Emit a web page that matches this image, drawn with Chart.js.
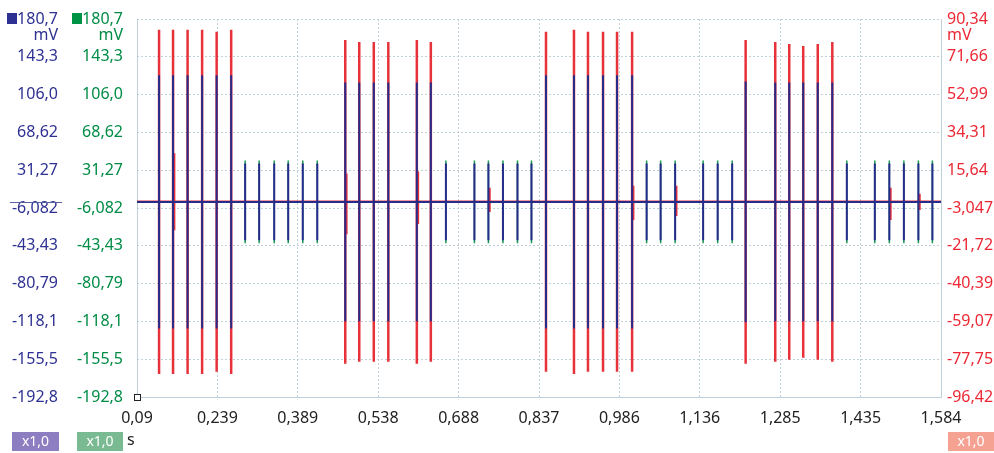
<!DOCTYPE html>
<html>
<head>
<meta charset="utf-8">
<script src="https://cdn.jsdelivr.net/npm/chart.js@4.4.1/dist/chart.umd.min.js"></script>
<style>
  html, body { margin: 0; padding: 0; background: #fff; }
  #scope { display: block; }
</style>
</head>
<body>
<canvas id="scope" width="994" height="453"></canvas>
<script>
// Time axis (s)
const xMin = 0.09;
const xMax = 1.584;
const xTickValues = [0.09, 0.2394, 0.3888, 0.5382, 0.6876, 0.837, 0.9864, 1.1358, 1.2852, 1.4346, 1.584];
const xTickLabels = ['0,09', '0,239', '0,389', '0,538', '0,688', '0,837', '0,986', '1,136', '1,285', '1,435', '1,584'];

// Channel A (blue) and B (green) share the same range (mV)
const abTickValues = [180.7, 143.35, 106.0, 68.62, 31.27, -6.082, -43.43, -80.79, -118.1, -155.5, -192.8];
const abTickLabels = ['180,7', '143,3', '106,0', '68,62', '31,27', '-6,082', '-43,43', '-80,79', '-118,1', '-155,5', '-192,8'];

// Channel C (red) range (mV)
const cTickValues = [90.34, 71.66, 52.99, 34.31, 15.64, -3.047, -21.72, -40.39, -59.07, -77.75, -96.42];
const cTickLabels = ['90,34', '71,66', '52,99', '34,31', '15,64', '-3,047', '-21,72', '-40,39', '-59,07', '-77,75', '-96,42'];

// Large pulses (s) with their peak values
const bigPulseTimes = [
  0.131, 0.157, 0.184, 0.211, 0.238, 0.265,
  0.477, 0.503, 0.530, 0.557, 0.610, 0.636,
  0.850, 0.902, 0.928, 0.956, 0.982, 1.010,
  1.221, 1.276, 1.302, 1.328, 1.355, 1.382
];
const blueBigAmp = [
  125, 125, 125, 125, 125, 125,
  118, 118, 118, 118, 118, 118,
  125, 125, 125, 125, 125, 125,
  119, 118, 118, 118, 118, 118
];
const redBigAmp = [
  85, 85, 85, 85, 84, 85,
  80, 79, 79, 79, 80, 79,
  84, 85, 84, 84, 84, 84,
  80, 79, 78, 77, 78, 79
];

// Small pulses (s) with their peak values
const smallPulseTimes = [
  0.291, 0.317, 0.345, 0.371, 0.398, 0.425,
  0.664, 0.717, 0.743, 0.770, 0.797, 0.823,
  1.037, 1.063, 1.090, 1.142, 1.169, 1.196,
  1.409, 1.461, 1.488, 1.515, 1.542, 1.568
];
const blueSmallAmp = [
  38, 38, 38, 38, 38, 38,
  38, 38, 38, 38, 38, 38,
  38, 38, 38, 38, 38, 38,
  38, 38, 38, 38, 38, 38
];
const greenSmallAmp = [
  41, 41, 41, 41, 41, 41,
  41, 41, 41, 41, 41, 41,
  41, 41, 41, 41, 41, 41,
  41, 41, 41, 41, 41, 41
];

// Small red blips next to some pulses (s, mV up, mV down)
const redBlipTimes = [0.159, 0.479, 0.612, 0.745, 1.012, 1.092, 1.490, 1.544];
const redBlipUp = [24, 14, 15, 7, 8, 8, 7, 4];
const redBlipDown = [14, 16, 11, 5, 9, 7, 9, 4];

// Colours
const blueColor = 'rgb(38, 44, 138)';
const greenColor = 'rgb(20, 150, 80)';
const redColor = 'rgb(232, 50, 58)';
const blueText = 'rgb(46, 49, 146)';
const greenText = 'rgb(0, 140, 70)';
const redText = 'rgb(236, 40, 52)';
const gridColor = 'rgb(190, 208, 218)';

// Build a trace: baseline with vertical spikes
function buildTrace(groups) {
  const spikes = [];
  groups.forEach(g => {
    g.times.forEach((t, i) => {
      spikes.push({ t: t, up: g.up[i], down: g.down[i] });
    });
  });
  spikes.sort((a, b) => a.t - b.t);
  const pts = [{ x: xMin, y: 0 }];
  spikes.forEach(s => {
    pts.push({ x: s.t, y: 0 });
    pts.push({ x: s.t, y: s.up });
    pts.push({ x: s.t, y: -s.down });
    pts.push({ x: s.t, y: 0 });
  });
  pts.push({ x: xMax, y: 0 });
  return pts;
}

const blueData = buildTrace([
  { times: bigPulseTimes, up: blueBigAmp, down: blueBigAmp },
  { times: smallPulseTimes, up: blueSmallAmp, down: blueSmallAmp }
]);
const greenData = buildTrace([
  { times: smallPulseTimes, up: greenSmallAmp, down: greenSmallAmp }
]);
const redData = buildTrace([
  { times: bigPulseTimes, up: redBigAmp, down: redBigAmp },
  { times: redBlipTimes, up: redBlipUp, down: redBlipDown }
]);

function fixedTicks(values) {
  return function(scale) {
    scale.ticks = values.map(v => ({ value: v }));
  };
}
function labelFor(values, labels) {
  return function(value) {
    const i = values.indexOf(value);
    return i >= 0 ? labels[i] : '';
  };
}
// fixed axis width, no extra top/bottom padding from the tick labels
function fixWidth(w) {
  return function(s) {
    s.width = w;
    s.paddingTop = 0;
    s.paddingBottom = 0;
  };
}

// Extra decorations: unit labels, channel squares, range badges
const scopeDecor = {
  id: 'scopeDecor',
  afterDraw(chart) {
    const ctx = chart.ctx;
    const area = chart.chartArea;
    ctx.save();
    ctx.font = '16px "Noto Sans"';
    ctx.textBaseline = 'middle';

    // channel squares
    ctx.fillStyle = 'rgb(46, 49, 146)';
    ctx.fillRect(7, 13, 10, 11);
    ctx.fillStyle = 'rgb(0, 146, 69)';
    ctx.fillRect(72, 13, 10, 11);

    // units
    ctx.textAlign = 'right';
    ctx.fillStyle = blueText;
    ctx.fillText('mV', 58, 35);
    ctx.fillStyle = greenText;
    ctx.fillText('mV', 123, 35);
    ctx.textAlign = 'left';
    ctx.fillStyle = redText;
    ctx.fillText('mV', 947, 35);

    // zero marker for channel A
    const y0 = Math.round(chart.scales.yBlue.getPixelForValue(0)) + 0.5;
    ctx.strokeStyle = 'rgb(90, 95, 160)';
    ctx.lineWidth = 1;
    ctx.beginPath();
    ctx.moveTo(10, y0);
    ctx.lineTo(62, y0);
    ctx.stroke();

    // origin marker
    ctx.fillStyle = '#fff';
    ctx.fillRect(area.left - 2, area.bottom - 2, 6, 6);
    ctx.strokeStyle = '#222';
    ctx.strokeRect(area.left - 2.5, area.bottom - 2.5, 6, 6);

    // range badges
    ctx.font = '14px "Noto Sans"';
    ctx.textAlign = 'center';
    const badges = [
      { x: 12, w: 47, fill: 'rgb(140, 126, 192)' },
      { x: 77, w: 46, fill: 'rgb(122, 186, 146)' },
      { x: 948, w: 46, fill: 'rgb(246, 162, 146)' }
    ];
    badges.forEach(b => {
      ctx.fillStyle = b.fill;
      ctx.fillRect(b.x, 432, b.w, 19);
      ctx.fillStyle = '#fff';
      ctx.fillText('x1,0', b.x + b.w / 2, 442);
    });

    // time unit
    ctx.font = '16px "Noto Sans"';
    ctx.textAlign = 'left';
    ctx.fillStyle = '#222';
    ctx.fillText('s', 127, 440);
    ctx.restore();
  }
};

Chart.defaults.font.family = '"Noto Sans", sans-serif';
Chart.defaults.font.size = 16;

const ctx = document.getElementById('scope').getContext('2d');

const scopeChart = new Chart(ctx, {
  type: 'line',
  data: {
    datasets: [
      {
        label: 'A',
        data: blueData,
        yAxisID: 'yBlue',
        borderColor: blueColor,
        borderWidth: 2,
        order: 1
      },
      {
        label: 'C',
        data: redData,
        yAxisID: 'yRed',
        borderColor: redColor,
        borderWidth: 2.5,
        order: 2
      },
      {
        label: 'B',
        data: greenData,
        yAxisID: 'yGreen',
        borderColor: greenColor,
        borderWidth: 1.5,
        order: 3
      }
    ]
  },
  options: {
    responsive: false,
    animation: false,
    devicePixelRatio: 1,
    layout: { padding: { top: 19, left: 0, right: 0, bottom: 0 } },
    elements: {
      point: { radius: 0 },
      line: { tension: 0, borderJoinStyle: 'bevel' }
    },
    plugins: {
      legend: { display: false },
      tooltip: { enabled: false }
    },
    scales: {
      x: {
        type: 'linear',
        min: xMin,
        max: xMax,
        afterBuildTicks: fixedTicks(xTickValues),
        afterFit: s => { s.height = 56; },
        grid: { color: gridColor, drawTicks: false },
        border: { display: true, color: gridColor, dash: [2, 2] },
        ticks: {
          color: '#222',
          padding: 12,
          maxRotation: 0,
          autoSkip: false,
          callback: labelFor(xTickValues, xTickLabels)
        }
      },
      yBlue: {
        position: 'left',
        weight: 2,
        min: -192.8,
        max: 180.7,
        afterBuildTicks: fixedTicks(abTickValues),
        afterFit: fixWidth(65),
        grid: { color: gridColor, drawTicks: false },
        border: { display: false, dash: [2, 2] },
        ticks: {
          color: blueText,
          padding: 7,
          autoSkip: false,
          callback: labelFor(abTickValues, abTickLabels)
        }
      },
      yGreen: {
        position: 'left',
        weight: 1,
        min: -192.8,
        max: 180.7,
        afterBuildTicks: fixedTicks(abTickValues),
        afterFit: fixWidth(72),
        grid: { display: false, drawTicks: false },
        border: { display: true, color: gridColor, dash: [2, 2] },
        ticks: {
          color: greenText,
          padding: 14,
          autoSkip: false,
          callback: labelFor(abTickValues, abTickLabels)
        }
      },
      yRed: {
        position: 'right',
        min: -96.42,
        max: 90.34,
        afterBuildTicks: fixedTicks(cTickValues),
        afterFit: fixWidth(53),
        grid: { display: false, drawTicks: false },
        border: { display: true, color: gridColor, dash: [2, 2] },
        ticks: {
          color: redText,
          padding: 6,
          autoSkip: false,
          callback: labelFor(cTickValues, cTickLabels)
        }
      }
    }
  },
  plugins: [scopeDecor]
});
</script>
</body>
</html>
